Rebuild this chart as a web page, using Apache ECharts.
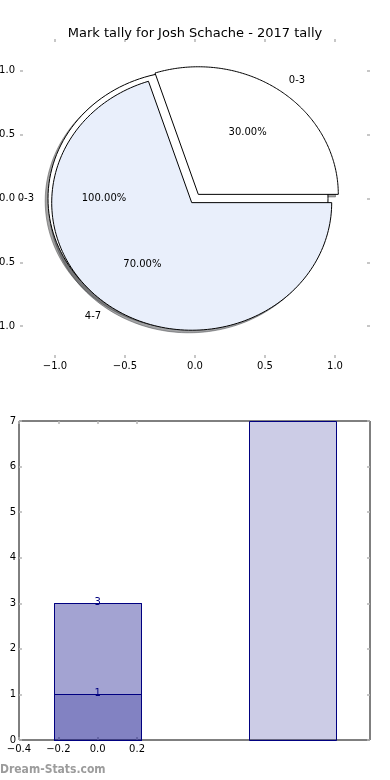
<!DOCTYPE html>
<html>
<head>
<meta charset="utf-8">
<script src="https://cdn.jsdelivr.net/npm/echarts@6/dist/echarts.min.js"></script>
<style>
html,body{margin:0;padding:0;background:#fff;}
#chart{width:390px;height:780px;}
</style>
</head>
<body>
<div id="chart"></div>
<script>
// ---- data ----
const chartTitle = 'Mark tally for Josh Schache - 2017 tally';
// first (background) pie: one band only
const pieBackLabels = ['0-3'];
const pieBackValues = [3];
// main pie
const pieLabels = ['0-3', '4-7'];
const pieValues = [3, 7];
// pie axis tick labels
const pieTicks = [-1.0, -0.5, 0.0, 0.5, 1.0];
// bar chart: positions and overlapping layers
const barPositions = [0, 0.99];
const barLayer1 = [3, 7];
const barLayer2 = [3, null];
const barLayer3 = [1, null];
const barLabelLayer2 = ['3', null];
const barLabelLayer3 = ['1', null];
const barXTicks = [-0.4, -0.2, 0.0, 0.2];
const barYTicks = [0, 1, 2, 3, 4, 5, 6, 7];
const watermark = 'Dream-Stats.com';

// ---- styles ----
const FONT = 'DejaVu Sans';
const explodeBack = 0.05;
const explodeMain = 0.04;
const pieBackColors = ['#ffffff'];
const pieColors = ['#ffffff', '#e9effb'];
const barWidth = 0.445;
const tickColor = '#b5b5b5';

function fmt(v) {
  return (v < 0 ? '\u2212' : '') + Math.abs(v).toFixed(1);
}

// build wedge descriptors from values
const wedges = [];
function addPie(labels, values, colors, explode) {
  const total = values.reduce((a, b) => a + b, 0);
  let acc = 0;
  values.forEach((v, i) => {
    const t1 = acc / total * 2 * Math.PI;
    acc += v;
    const t2 = acc / total * 2 * Math.PI;
    const tm = (t1 + t2) / 2;
    wedges.push({
      t1, t2, tm,
      cx: explode * Math.cos(tm),
      cy: explode * Math.sin(tm),
      full: Math.abs((t2 - t1) - 2 * Math.PI) < 1e-9,
      color: colors[i],
      label: labels[i],
      pct: (v / total * 100).toFixed(2) + '%'
    });
  });
}
addPie(pieBackLabels, pieBackValues, pieBackColors, explodeBack);
addPie(pieLabels, pieValues, pieColors, explodeMain);

function wedgePts(api, w, dx, dy) {
  const pts = [];
  if (!w.full) pts.push(api.coord([w.cx + dx, w.cy + dy]));
  const n = 160;
  for (let i = 0; i <= n; i++) {
    const t = w.t1 + (w.t2 - w.t1) * i / n;
    pts.push(api.coord([w.cx + dx + Math.cos(t), w.cy + dy + Math.sin(t)]));
  }
  return pts;
}

function shadowColor(hex) {
  const r = parseInt(hex.slice(1, 3), 16), g = parseInt(hex.slice(3, 5), 16), b = parseInt(hex.slice(5, 7), 16);
  return 'rgba(' + Math.round(r * 0.3) + ',' + Math.round(g * 0.3) + ',' + Math.round(b * 0.3) + ',0.5)';
}

const wedgeData = wedges.map((w, i) => [0, 0, i]);

// bars
const barItems = [];
[barLayer1, barLayer2, barLayer3].forEach((layer, li) => {
  layer.forEach((h, i) => { if (h != null) barItems.push([barPositions[i], h, li]); });
});
const barLabelItems = [];
[[barLayer2, barLabelLayer2], [barLayer3, barLabelLayer3]].forEach(([layer, labs]) => {
  layer.forEach((h, i) => { if (labs[i] != null) barLabelItems.push([barPositions[i], h, labs[i]]); });
});

const chart = echarts.init(document.getElementById('chart'), null, {renderer: 'canvas'});

const tickStyle = {show: true, inside: true, length: 3, lineStyle: {color: tickColor, width: 1.5}};
const labelStyle = {fontFamily: FONT, fontSize: 10, color: '#000'};
const noLine = {show: false, onZero: false};

const option = {
  animation: false,
  backgroundColor: '#fff',
  title: {
    text: chartTitle,
    left: 'center',
    top: 22,
    textStyle: {fontFamily: FONT, fontSize: 13, fontWeight: 'normal', color: '#000'}
  },
  grid: [
    {left: 20, top: 39, width: 350, height: 319, show: false, outerBoundsMode: 'none', containLabel: false},
    {left: 19, top: 421, width: 351, height: 319, show: true, borderColor: '#000', borderWidth: 1, backgroundColor: 'transparent', outerBoundsMode: 'none', containLabel: false}
  ],
  xAxis: [
    {gridIndex: 0, type: 'value', min: -1.25, max: 1.25, position: 'bottom',
      axisLine: noLine, splitLine: {show: false},
      axisTick: Object.assign({customValues: pieTicks}, tickStyle),
      axisLabel: Object.assign({customValues: pieTicks, margin: 3, formatter: fmt}, labelStyle)},
    {gridIndex: 0, type: 'value', min: -1.25, max: 1.25, position: 'top',
      axisLine: noLine, splitLine: {show: false},
      axisTick: Object.assign({customValues: pieTicks}, tickStyle),
      axisLabel: {show: false}},
    {gridIndex: 1, type: 'value', min: -0.4, max: 1.384, position: 'bottom',
      axisLine: noLine, splitLine: {show: false},
      axisTick: Object.assign({customValues: barXTicks}, tickStyle),
      axisLabel: Object.assign({customValues: barXTicks, margin: 4, formatter: fmt}, labelStyle)},
    {gridIndex: 1, type: 'value', min: -0.4, max: 1.384, position: 'top',
      axisLine: noLine, splitLine: {show: false},
      axisTick: Object.assign({customValues: barXTicks}, tickStyle),
      axisLabel: {show: false}}
  ],
  yAxis: [
    {gridIndex: 0, type: 'value', min: -1.25, max: 1.25, position: 'left',
      axisLine: noLine, splitLine: {show: false},
      axisTick: Object.assign({customValues: pieTicks}, tickStyle),
      axisLabel: Object.assign({customValues: pieTicks, margin: 5, formatter: fmt}, labelStyle)},
    {gridIndex: 0, type: 'value', min: -1.25, max: 1.25, position: 'right',
      axisLine: noLine, splitLine: {show: false},
      axisTick: Object.assign({customValues: pieTicks}, tickStyle),
      axisLabel: {show: false}},
    {gridIndex: 1, type: 'value', min: 0, max: 7, interval: 1, position: 'left',
      axisLine: noLine, splitLine: {show: false},
      axisTick: Object.assign({customValues: barYTicks}, tickStyle),
      axisLabel: Object.assign({customValues: barYTicks, margin: 3}, labelStyle)},
    {gridIndex: 1, type: 'value', min: 0, max: 7, interval: 1, position: 'right',
      axisLine: noLine, splitLine: {show: false},
      axisTick: Object.assign({customValues: barYTicks}, tickStyle),
      axisLabel: {show: false}}
  ],
  graphic: [{
    type: 'text', left: 0, top: 764,
    style: {text: watermark, fill: '#9c9c9c', font: 'bold 12px "DejaVu Sans Condensed", "DejaVu Sans"'}
  }],
  series: [
    { // shadows
      type: 'custom', xAxisIndex: 0, yAxisIndex: 0, clip: false, z: 1, silent: true,
      data: wedgeData,
      renderItem: function (params, api) {
        const w = wedges[params.dataIndex];
        const c = shadowColor(w.color);
        return {type: 'polygon', shape: {points: wedgePts(api, w, -0.02, -0.02)},
          style: {fill: c, stroke: c, lineWidth: 1}};
      }
    },
    { // wedges
      type: 'custom', xAxisIndex: 0, yAxisIndex: 0, clip: false, z: 2, silent: true,
      data: wedgeData,
      renderItem: function (params, api) {
        const w = wedges[params.dataIndex];
        return {type: 'polygon', shape: {points: wedgePts(api, w, 0, 0)},
          style: {fill: w.color, stroke: '#000', lineWidth: 1}};
      }
    },
    { // wedge labels
      type: 'custom', xAxisIndex: 0, yAxisIndex: 0, clip: false, z: 3, silent: true,
      data: wedgeData,
      renderItem: function (params, api) {
        const w = wedges[params.dataIndex];
        const lx = w.cx + 1.1 * Math.cos(w.tm), ly = w.cy + 1.1 * Math.sin(w.tm);
        const px = w.cx + 0.6 * Math.cos(w.tm), py = w.cy + 0.6 * Math.sin(w.tm);
        const lp = api.coord([lx, ly]), pp = api.coord([px, py]);
        return {type: 'group', children: [
          {type: 'text', x: lp[0], y: lp[1], style: {text: w.label, fill: '#000', fontFamily: FONT, fontSize: 10,
            align: lx > 0 ? 'left' : 'right', verticalAlign: 'middle'}},
          {type: 'text', x: pp[0], y: pp[1], style: {text: w.pct, fill: '#000', fontFamily: FONT, fontSize: 10,
            align: 'center', verticalAlign: 'middle'}}
        ]};
      }
    },
    { // bars
      type: 'custom', xAxisIndex: 2, yAxisIndex: 2, clip: false, z: 2, silent: true,
      data: barItems,
      renderItem: function (params, api) {
        const x = api.value(0), h = api.value(1);
        const p0 = api.coord([x - barWidth / 2, 0]);
        const p1 = api.coord([x + barWidth / 2, h]);
        const x0 = Math.round(p0[0]) + 0.5, x1 = Math.round(p1[0]) + 0.5;
        const y0 = Math.round(p0[1]) + 0.5, y1 = Math.round(p1[1]) + 0.5;
        return {type: 'rect', shape: {x: x0, y: y1, width: x1 - x0, height: y0 - y1},
          style: {fill: 'rgba(0,0,128,0.2)', stroke: '#000080', lineWidth: 1}};
      }
    },
    { // bar labels
      type: 'custom', xAxisIndex: 2, yAxisIndex: 2, clip: false, z: 4, silent: true,
      data: barLabelItems,
      renderItem: function (params, api) {
        const item = barLabelItems[params.dataIndex];
        const p = api.coord([item[0], item[1]]);
        return {type: 'text', x: p[0], y: p[1] - 1, style: {text: item[2], fill: '#000080', fontFamily: FONT, fontSize: 10,
          align: 'center', verticalAlign: 'middle'}};
      }
    }
  ]
};
chart.setOption(option);
</script>
</body>
</html>
